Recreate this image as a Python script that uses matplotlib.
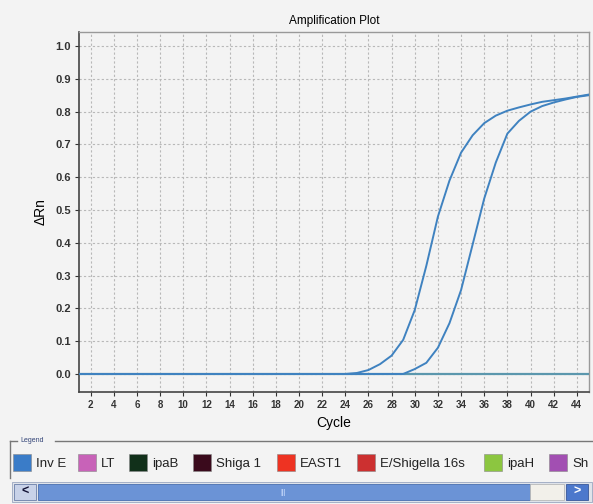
import matplotlib.pyplot as plt
import matplotlib.patches as mpatches
import numpy as np

plt.rcParams['font.family'] = ['Liberation Sans', 'DejaVu Sans']

# cycles and delta Rn values
cycles = list(range(1, 46))
curve_a = [0.0] * 23 + [0.0, 0.003, 0.012, 0.03, 0.056, 0.104, 0.195, 0.33, 0.48, 0.59,
                        0.675, 0.728, 0.765, 0.788, 0.803, 0.813, 0.822, 0.83, 0.835, 0.84,
                        0.846, 0.852]
curve_b = [0.0] * 28 + [0.0, 0.015, 0.034, 0.08, 0.155, 0.256, 0.395, 0.535, 0.645, 0.733,
                        0.772, 0.8, 0.817, 0.828, 0.837, 0.845, 0.85]
baseline = [0.0] * 45

legend_names = ['Inv E', 'LT', 'ipaB', 'Shiga 1', 'EAST1', 'E/Shigella 16s', 'ipaH', 'Sh']
legend_colors = ['#3a7cc8', '#c862b8', '#11301a', '#3a0a1c', '#ee3322', '#cc3030', '#8cc640', '#a24fb2']
legend_x = [13, 78, 129, 193, 277, 357, 484, 549]

W, H = 593, 504
bg = '#f3f3f3'
fig = plt.figure(figsize=(W / 100, H / 100), dpi=100, facecolor=bg)
ax = fig.add_axes([79 / W, 1 - 392 / H, 510 / W, 360 / H])
ax.set_facecolor(bg)

ax.plot(cycles, baseline, color='#5b97ad', lw=1.6, zorder=3)
ax.plot(cycles, curve_a, color='#3f82c0', lw=1.4, zorder=4)
ax.plot(cycles, curve_b, color='#3f82c0', lw=1.4, zorder=4)

ax.set_xlim(1, 45.05)
ax.set_ylim(-0.055, 1.043)
ax.set_xticks(range(2, 45, 2))
ax.set_yticks(np.arange(0, 1.01, 0.1))
ax.set_yticklabels(['%.1f' % v for v in np.arange(0, 1.01, 0.1)])
ax.tick_params(axis='x', labelsize=7, length=3, color='#333333', pad=3)
ax.tick_params(axis='y', labelsize=8, length=3, color='#333333', pad=3)
for lab in ax.get_xticklabels() + ax.get_yticklabels():
    lab.set_fontweight('bold')
    lab.set_color('#333333')
ax.grid(True, color='#b8b8b8', linestyle=(0, (2, 2)), lw=0.8)
for s in ['top', 'right']:
    ax.spines[s].set_color('#999999')
    ax.spines[s].set_linewidth(1.0)
for s in ['left', 'bottom']:
    ax.spines[s].set_color('#444444')
    ax.spines[s].set_linewidth(1.2)

ax.set_title('Amplification Plot', fontsize=8.5, pad=6)
ax.set_xlabel('Cycle', fontsize=10, labelpad=4)
ax.set_ylabel('ΔRn', fontsize=10, labelpad=5)

# legend panel
def px(x, y):
    return x / W, 1 - y / H

fig.add_artist(plt.Line2D([10 / W, 10 / W], [1 - 441 / H, 1 - 478 / H], color='#777777', lw=1))
fig.add_artist(plt.Line2D([10 / W, 17 / W], [1 - 441 / H, 1 - 441 / H], color='#777777', lw=1))
fig.add_artist(plt.Line2D([55 / W, 1.0], [1 - 441 / H, 1 - 441 / H], color='#777777', lw=1))
fig.text(*px(20, 441), 'Legend', fontsize=5, color='#334477', va='center', ha='left')

for name, col, x0 in zip(legend_names, legend_colors, legend_x):
    fig.add_artist(mpatches.Rectangle(px(x0, 471), 18 / W, 17 / H, facecolor=col,
                                      edgecolor='#888888', lw=0.4))
    fig.text(*px(x0 + 23, 462.5), name, fontsize=9.5, va='center_baseline', ha='left', color='#222222')

# scrollbar
fig.add_artist(mpatches.Rectangle(px(12, 502), 580 / W, 20 / H, facecolor='#dfe3ea', edgecolor='#9aa6c0', lw=0.6))
fig.add_artist(mpatches.Rectangle(px(38, 500), 492 / W, 16 / H, facecolor='#6b93d6', edgecolor='#4a6fb0', lw=0.6))
fig.add_artist(mpatches.Rectangle(px(530, 500), 34 / W, 16 / H, facecolor='#f2f0ea', edgecolor='#b8b8b8', lw=0.6))
fig.add_artist(mpatches.Rectangle(px(14, 500), 22 / W, 16 / H, facecolor='#c8d2e8', edgecolor='#6a7ea8', lw=0.6))
fig.add_artist(mpatches.Rectangle(px(566, 500), 22 / W, 16 / H, facecolor='#4c78cc', edgecolor='#38589a', lw=0.6))
fig.text(*px(25, 492), '<', fontsize=9, fontweight='bold', ha='center', va='center', color='#111133')
fig.text(*px(577, 492), '>', fontsize=9, fontweight='bold', ha='center', va='center', color='#ffffff')
fig.text(*px(283, 492), '|||', fontsize=5, ha='center', va='center', color='#cfe0ff')

fig.savefig('out.png', dpi=100, facecolor=bg)
